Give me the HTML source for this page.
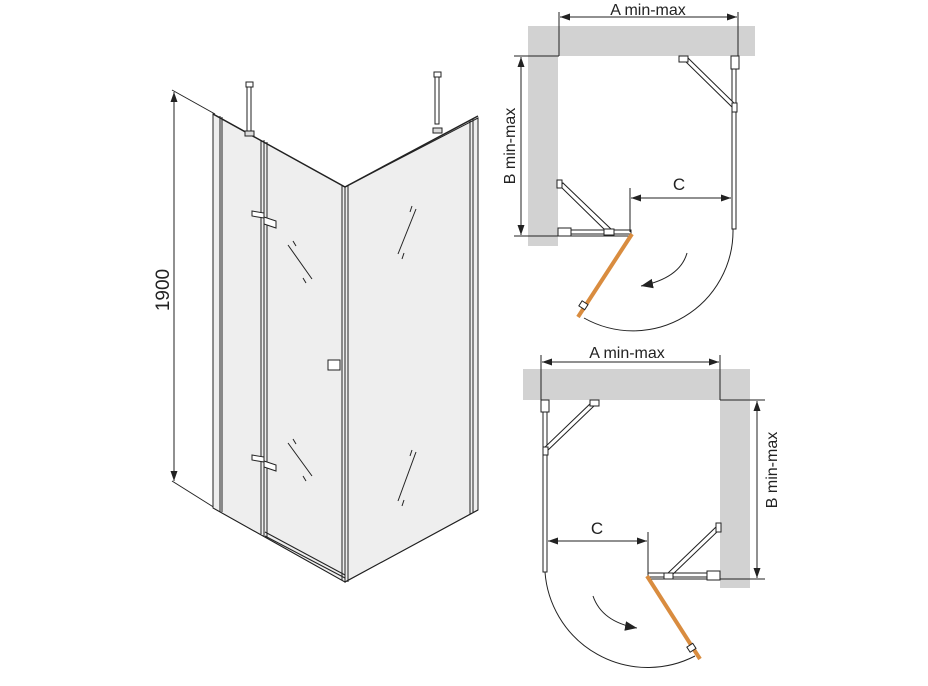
<!DOCTYPE html>
<html><head><meta charset="utf-8"><style>
html,body{margin:0;padding:0;background:#fff;}
svg{display:block;font-family:"Liberation Sans",sans-serif;}
</style></head><body>
<svg width="928" height="686" viewBox="0 0 928 686" xmlns="http://www.w3.org/2000/svg">
<defs>
<marker id="ah" viewBox="0 0 10 10" refX="10" refY="5" markerWidth="10" markerHeight="10" markerUnits="userSpaceOnUse" orient="auto-start-reverse"><path d="M0,1.5 L10,5 L0,8.5 z" fill="#222"/></marker>
<marker id="ah2" viewBox="0 0 10 10" refX="10" refY="5" markerWidth="12" markerHeight="12" markerUnits="userSpaceOnUse" orient="auto"><path d="M0,1 L10,5 L0,9 z" fill="#222"/></marker>
</defs>

<!-- LEFT 3D shower -->
<g stroke="#222" stroke-width="1" fill="none">
<line x1="174" y1="92" x2="174" y2="481" marker-start="url(#ah)" marker-end="url(#ah)"/>
<line x1="172" y1="90" x2="215" y2="114"/>
<line x1="172" y1="481" x2="215" y2="508"/>
<polygon points="213,114 345,187 345,582 213,508" fill="#eeeeee"/>
<polygon points="345,187 478,118 478,510 345,582" fill="#eeeeee"/>
<line x1="220" y1="116" x2="220" y2="512"/>
<line x1="222" y1="117" x2="222" y2="512"/>
<line x1="261" y1="140" x2="261" y2="534"/>
<line x1="264" y1="140" x2="264" y2="536"/>
<line x1="267" y1="142" x2="267" y2="537"/>
<line x1="342" y1="186" x2="342" y2="580"/>
<line x1="345" y1="187" x2="345" y2="582"/>
<line x1="348" y1="186" x2="348" y2="582"/>
<line x1="470" y1="120" x2="470" y2="514"/>
<line x1="473" y1="119" x2="473" y2="513"/>
<line x1="213" y1="114" x2="345" y2="187" stroke-width="1.5"/>
<line x1="345" y1="187" x2="478" y2="116" stroke-width="1.5"/>
<line x1="213" y1="508" x2="345" y2="582"/>
<line x1="265" y1="536" x2="345" y2="578"/>
<line x1="265" y1="532" x2="345" y2="575"/>
<line x1="345" y1="582" x2="478" y2="510"/>
<rect x="247" y="85" width="4" height="48" fill="#fff"/>
<rect x="246" y="82" width="7" height="5" fill="#fff"/>
<rect x="245" y="131" width="9" height="5" fill="#ddd"/>
<rect x="435" y="76" width="4" height="48" fill="#fff"/>
<rect x="434" y="72" width="7" height="5" fill="#fff"/>
<rect x="433" y="128" width="9" height="5" fill="#ddd"/>
<polygon points="252,211 264,213 264,218 252,216" fill="#fff"/>
<polygon points="264,217 276,221 276,228 264,224" fill="#fff"/>
<polygon points="252,455 264,457 264,462 252,460" fill="#fff"/>
<polygon points="264,461 276,465 276,471 264,467" fill="#fff"/>
<rect x="328" y="360" width="12" height="10" fill="#fff"/>
<line x1="288" y1="245" x2="312" y2="279"/><line x1="293" y1="241" x2="296" y2="246"/><line x1="303" y1="278" x2="306" y2="283"/>
<line x1="288" y1="443" x2="312" y2="476"/><line x1="293" y1="439" x2="296" y2="444"/><line x1="303" y1="476" x2="306" y2="481"/>
<line x1="416" y1="209" x2="398" y2="254"/><line x1="412" y1="206" x2="410" y2="212"/><line x1="404" y1="253" x2="402" y2="259"/>
<line x1="416" y1="452" x2="398" y2="501"/><line x1="412" y1="450" x2="410" y2="456"/><line x1="404" y1="500" x2="402" y2="506"/>
</g>
<text transform="translate(169,290) rotate(-90)" font-size="19" text-anchor="middle" fill="#222">1900</text>

<!-- TOP RIGHT plan -->
<g>
<rect x="528" y="26" width="227" height="30" fill="#d2d2d2"/>
<rect x="528" y="56" width="30" height="190" fill="#d2d2d2"/>
<g stroke="#222" stroke-width="1" fill="none">
<line x1="559" y1="12" x2="559" y2="56"/><line x1="738" y1="12" x2="738" y2="56"/>
<line x1="560" y1="17" x2="737" y2="17" marker-start="url(#ah)" marker-end="url(#ah)"/>
<line x1="514" y1="56" x2="559" y2="56"/><line x1="514" y1="236" x2="630" y2="236"/>
<line x1="521" y1="57" x2="521" y2="235" marker-start="url(#ah)" marker-end="url(#ah)"/>
<rect x="732" y="69" width="4" height="160" fill="#fff"/>
<rect x="731" y="56" width="8" height="13" fill="#fff"/>
<polygon points="684,60 687,57 736,105 733,108" fill="#fff"/>
<rect x="679" y="56" width="9" height="6" fill="#fff"/>
<rect x="732" y="103" width="5" height="9" fill="#fff"/>
<rect x="571" y="230" width="60" height="4" fill="#fff"/>
<rect x="558" y="228" width="13" height="8" fill="#fff"/>
<polygon points="560,186 563,183 612,230 607,232" fill="#fff"/>
<rect x="557" y="180" width="5" height="8" fill="#fff"/>
<rect x="604" y="229" width="10" height="6" fill="#fff"/>
<line x1="630" y1="188" x2="630" y2="232"/>
<line x1="631" y1="198" x2="731" y2="198" marker-start="url(#ah)" marker-end="url(#ah)"/>
<path d="M733,229 A100,100 0 0 1 584,318"/>
<path d="M687,253 Q680,278 641,286" marker-end="url(#ah2)"/>
</g>
<line x1="632" y1="234" x2="578" y2="317" stroke="#d98c3f" stroke-width="4"/>
<rect x="580" y="302" width="7" height="6" fill="#fff" stroke="#222" stroke-width="1" transform="rotate(33 583 305)"/>
<text x="648" y="15" font-size="16" text-anchor="middle" fill="#222">A  min-max</text>
<text transform="translate(515,146) rotate(-90)" font-size="16" text-anchor="middle" fill="#222">B min-max</text>
<text x="679" y="190" font-size="17" text-anchor="middle" fill="#222">C</text>
</g>

<!-- BOTTOM RIGHT plan -->
<g>
<rect x="523" y="369" width="227" height="31" fill="#d2d2d2"/>
<rect x="720" y="400" width="30" height="188" fill="#d2d2d2"/>
<g stroke="#222" stroke-width="1" fill="none">
<line x1="541" y1="355" x2="541" y2="400"/><line x1="720" y1="355" x2="720" y2="400"/>
<line x1="542" y1="362" x2="719" y2="362" marker-start="url(#ah)" marker-end="url(#ah)"/>
<line x1="720" y1="400" x2="765" y2="400"/><line x1="648" y1="579" x2="765" y2="579"/>
<line x1="757" y1="401" x2="757" y2="578" marker-start="url(#ah)" marker-end="url(#ah)"/>
<rect x="543" y="412" width="4" height="160" fill="#fff"/>
<rect x="541" y="400" width="8" height="12" fill="#fff"/>
<polygon points="592,402 595,405 546,452 543,449" fill="#fff"/>
<rect x="590" y="400" width="9" height="6" fill="#fff"/>
<rect x="543" y="447" width="5" height="8" fill="#fff"/>
<rect x="648" y="573" width="60" height="4" fill="#fff"/>
<rect x="707" y="571" width="13" height="9" fill="#fff"/>
<polygon points="716,527 719,530 671,576 667,574" fill="#fff"/>
<rect x="716" y="523" width="5" height="9" fill="#fff"/>
<rect x="664" y="573" width="9" height="6" fill="#fff"/>
<line x1="648" y1="532" x2="648" y2="574"/>
<line x1="548" y1="541" x2="647" y2="541" marker-start="url(#ah)" marker-end="url(#ah)"/>
<path d="M545,572 A103,103 0 0 0 695,656"/>
<path d="M593,596 Q602,622 637,628" marker-end="url(#ah2)"/>
</g>
<line x1="647" y1="576" x2="700" y2="659" stroke="#d98c3f" stroke-width="4"/>
<rect x="688" y="645" width="7" height="6" fill="#fff" stroke="#222" stroke-width="1" transform="rotate(-33 691 648)"/>
<text x="627" y="358" font-size="16" text-anchor="middle" fill="#222">A  min-max</text>
<text transform="translate(777,470) rotate(-90)" font-size="16" text-anchor="middle" fill="#222">B min-max</text>
<text x="597" y="534" font-size="17" text-anchor="middle" fill="#222">C</text>
</g>
</svg>
</body></html>
